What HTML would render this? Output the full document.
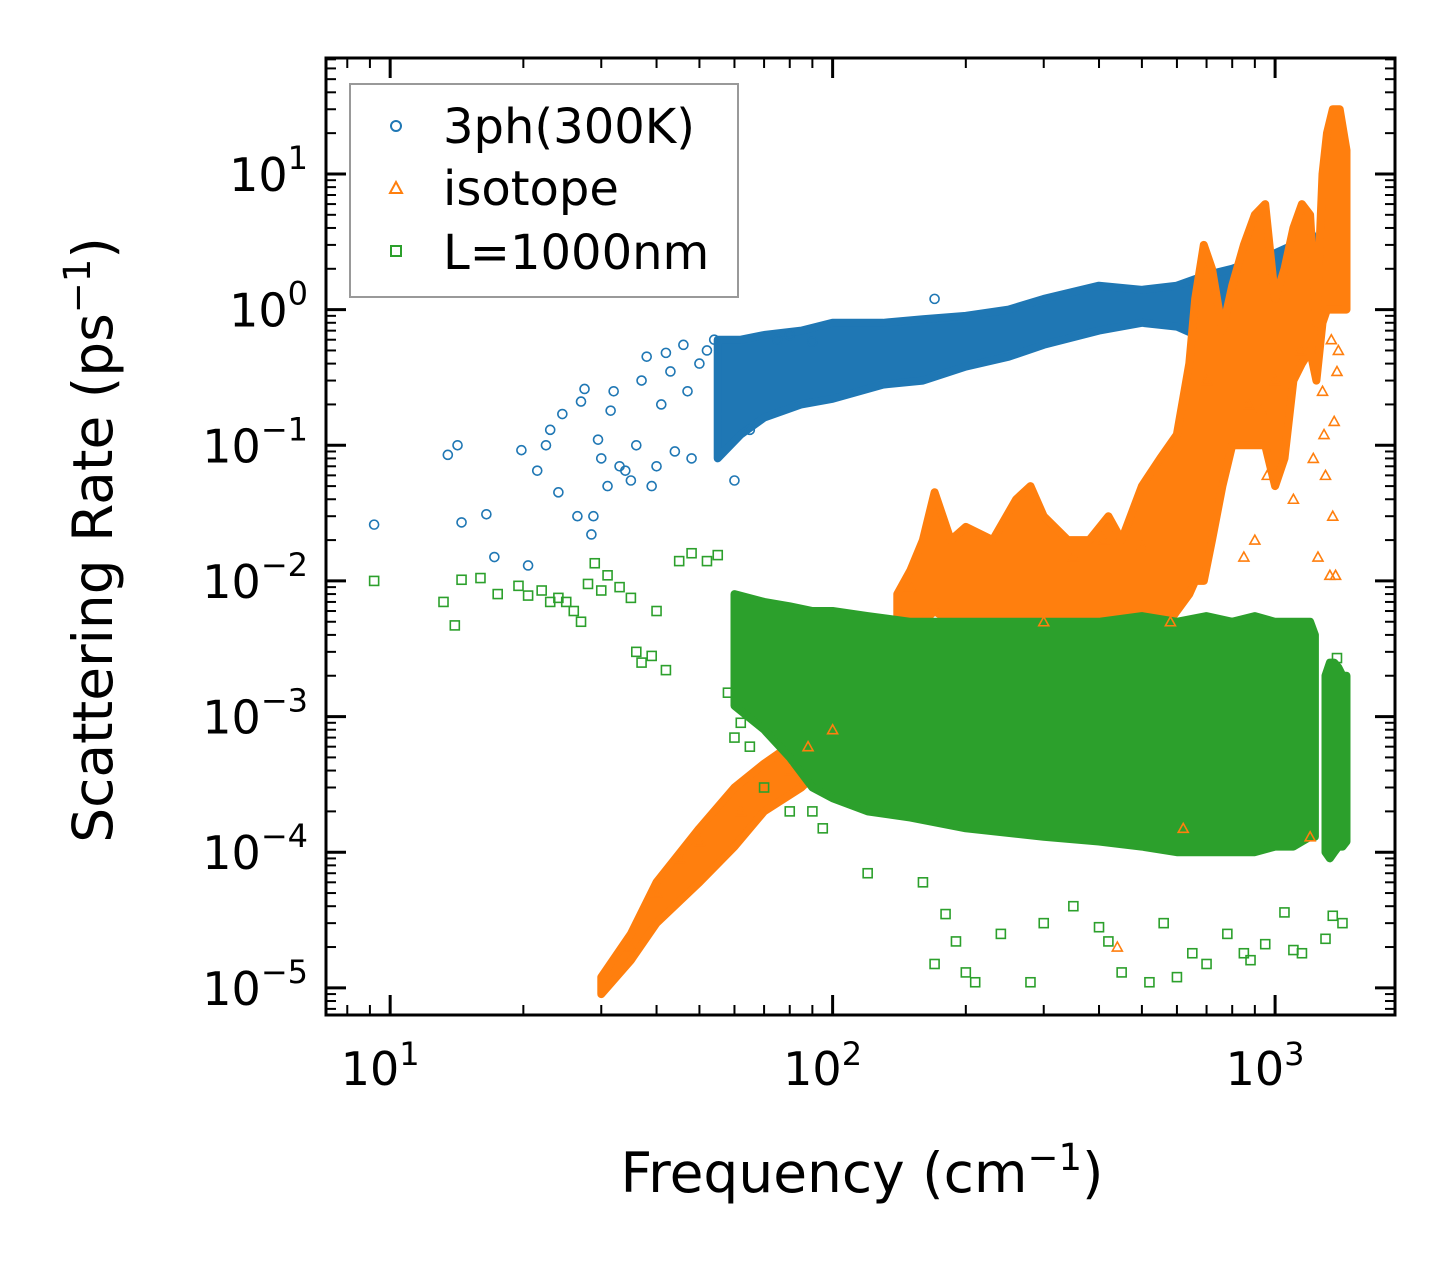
<!DOCTYPE html>
<html><head><meta charset="utf-8"><style>
body{margin:0;background:#fff}
svg text{font-family:"DejaVu Sans","Liberation Sans",sans-serif;fill:#000}
</style></head><body>
<svg id="chart" width="1455" height="1265" viewBox="0 0 1455 1265" xmlns="http://www.w3.org/2000/svg">
<rect width="1455" height="1265" fill="#fff"/>
<g id="bands"></g>
<g id="pts"></g>
<g id="axes"></g>
<text x="862" y="1192" font-size="55" text-anchor="middle">Frequency (cm<tspan dy="-22" font-size="37">−1</tspan><tspan dy="22">)</tspan></text>
<text transform="translate(112,540) rotate(-90)" font-size="55" text-anchor="middle">Scattering Rate (ps<tspan dy="-22" font-size="37">−1</tspan><tspan dy="22">)</tspan></text>
<g>
<rect x="350" y="84" width="388" height="213" fill="#fff" fill-opacity="0.8" stroke="#999" stroke-width="2"/>
<circle cx="396" cy="126" r="5" fill="none" stroke="#1f77b4" stroke-width="2"/>
<text x="443" y="143" font-size="48">3ph(300K)</text>
<path d="M396,182 L402,193 L390,193 Z" fill="none" stroke="#ff7f0e" stroke-width="2"/>
<text x="443" y="205" font-size="48">isotope</text>
<rect x="391" y="246" width="10" height="10" fill="none" stroke="#2ca02c" stroke-width="2"/>
<text x="443" y="269" font-size="48">L=1000nm</text>
</g>
</svg>
<script>
// ---- data ----
const blueBandF=[55,62,70,85,100,130,160,200,250,300,400,500,600,700,800,900,1000,1100,1200,1250,1300,1380,1450];
const blueBandLo=[0.08,0.12,0.16,0.2,0.22,0.28,0.3,0.38,0.45,0.55,0.7,0.8,0.75,0.6,0.8,0.9,1.0,1.2,1.4,1.3,1.2,1.2,1.2];
const blueBandHi=[0.6,0.6,0.65,0.7,0.8,0.8,0.85,0.9,1.0,1.2,1.5,1.4,1.5,1.8,2.0,2.3,2.6,3.0,3.8,3.0,2.2,2.0,1.9];
const orangeLowF=[30,35,40,50,60,70,85,100];
const orangeLowLo=[9e-6,1.6e-5,3e-5,6e-5,1.1e-4,2e-4,3e-4,5e-4];
const orangeLowHi=[1.2e-5,2.5e-5,6e-5,1.5e-4,3e-4,4.5e-4,7e-4,1.2e-3];
const orangeHiF=[140,150,160,170,185,200,230,260,280,300,340,380,420,450,500,550,600,640,660,690,720,760,800,850,900,950,1000,1050,1100,1150,1200,1240,1280,1310,1350,1400,1450];
const orangeHiLo=[3e-3,4e-3,5e-3,6e-3,5e-3,5e-3,5e-3,5e-3,5e-3,4e-3,4e-3,4e-3,4e-3,4e-3,4e-3,4e-3,6e-3,8e-3,0.01,0.01,0.02,0.05,0.1,0.1,0.1,0.1,0.05,0.08,0.3,0.4,0.5,0.3,0.8,1,1,1,1];
const orangeHiHi=[0.008,0.012,0.02,0.045,0.02,0.025,0.02,0.04,0.05,0.03,0.02,0.02,0.03,0.02,0.05,0.08,0.12,0.4,1.2,3,2,0.7,1.5,3,5,6,1.2,2,4,6,5,0.8,10,20,30,30,15];
const greenBandF=[60,70,80,90,100,120,150,200,300,400,500,600,700,800,900,1000,1100,1150,1200,1230];
const greenBandLo=[1.2e-3,8e-4,5e-4,3e-4,2.5e-4,2e-4,1.8e-4,1.5e-4,1.3e-4,1.2e-4,1.1e-4,1e-4,1e-4,1e-4,1e-4,1.1e-4,1.1e-4,1.2e-4,1.3e-4,1.3e-4];
const greenBandHi=[8e-3,7e-3,6.5e-3,6e-3,6e-3,5.5e-3,5e-3,5e-3,5e-3,5e-3,5.5e-3,5e-3,5.5e-3,5e-3,5.5e-3,5e-3,5e-3,5e-3,5e-3,4e-3];
const greenBand2F=[1300,1330,1360,1390,1420,1450];
const greenBand2Lo=[1e-4,9e-5,1e-4,1.1e-4,1.1e-4,1.2e-4];
const greenBand2Hi=[2e-3,2.5e-3,2.5e-3,2.3e-3,2e-3,2e-3];
const blueF=[9.2,13.5,14.2,14.5,16.5,17.2,19.8,20.5,21.5,22.5,23,24,24.5,26.5,27,27.5,28.5,28.8,29.5,30,31,31.5,32,33,34,35,36,37,38,39,40,41,42,43,44,46,47,48,50,52,54,60,65,75,80,90,170];
const blueR=[0.026,0.085,0.1,0.027,0.031,0.015,0.092,0.013,0.065,0.1,0.13,0.045,0.17,0.03,0.21,0.26,0.022,0.03,0.11,0.08,0.05,0.18,0.25,0.07,0.065,0.055,0.1,0.3,0.45,0.05,0.07,0.2,0.48,0.35,0.09,0.55,0.25,0.08,0.4,0.5,0.6,0.055,0.13,0.6,0.65,0.58,1.2];
const orangeF=[1330,1370,1350,1360,1380,1340,1390,1300,1290,1280,1250,1220,1140,1000,960,900,850,580,1100,870,930,500,410,350,700,440,620,100,88,80,62,50,35,40,45,1200,150,300];
const orangeR=[0.011,0.011,0.03,0.15,0.35,0.6,0.5,0.06,0.12,0.25,0.015,0.08,0.5,0.3,0.06,0.02,0.015,0.005,0.04,0.2,0.18,0.018,0.02,0.015,0.3,2e-5,1.5e-4,8e-4,6e-4,4e-4,2e-4,1.2e-4,2e-5,5e-5,9e-5,1.3e-4,0.009,0.005];
const greenF=[9.2,13.2,14,14.5,16,17.5,19.5,20.5,22,23,24,25,26,27,28,29,30,31,33,35,36,37,39,40,42,45,48,52,55,58,60,62,65,70,80,90,95,120,160,180,190,170,200,210,240,280,300,350,400,420,450,520,600,560,700,650,780,850,880,950,1050,1100,1150,1300,1350,1420,1380];
const greenR=[0.01,0.007,0.0047,0.0102,0.0105,0.008,0.0092,0.0078,0.0085,0.007,0.0075,0.007,0.006,0.005,0.0095,0.0135,0.0085,0.011,0.009,0.0075,0.003,0.0025,0.0028,0.006,0.0022,0.014,0.016,0.014,0.0155,0.0015,0.0007,0.0009,0.0006,0.0003,0.0002,0.0002,0.00015,0.00007,0.00006,0.000035,0.000022,0.000015,0.000013,0.000011,0.000025,0.000011,0.00003,0.00004,0.000028,0.000022,0.000013,0.000011,0.000012,0.00003,0.000015,0.000018,0.000025,0.000018,0.000016,0.000021,0.000036,0.000019,0.000018,0.000023,0.000034,0.00003,0.0027];
const xTickVals=[10,100,1000];
const xTickExp=["1","2","3"];
const yTickExp=[1,0,-1,-2,-3,-4,-5];

// ---- axes ----
const L=326,R=1395,T=58,B=1015;
const xmin=0.855,xmax=3.271,ymin=-5.2,ymax=1.855;
const X=v=>L+(Math.log10(v)-xmin)/(xmax-xmin)*(R-L);
const Y=v=>B-(Math.log10(v)-ymin)/(ymax-ymin)*(B-T);
const NS="http://www.w3.org/2000/svg";
function mk(tag,attrs,parent){const e=document.createElementNS(NS,tag);for(const k in attrs)e.setAttribute(k,attrs[k]);parent.appendChild(e);return e;}
const bands=document.getElementById('bands'),pts=document.getElementById('pts'),axes=document.getElementById('axes');

function band(F,lo,hi,color,name){
  let d='M'+F.map((f,i)=>X(f).toFixed(1)+','+Y(hi[i]).toFixed(1)).join(' L');
  for(let i=F.length-1;i>=0;i--)d+=' L'+X(F[i]).toFixed(1)+','+Y(lo[i]).toFixed(1);
  const p=mk('path',{d:d+'Z',fill:color,stroke:color,'stroke-width':8,'stroke-linejoin':'round'},bands);
  
  
}
function marker(kind,f,r,color){
  const x=X(f),y=Y(r);let e;
  if(kind==='c')e=mk('circle',{cx:x,cy:y,r:4.5,fill:'none',stroke:color,'stroke-width':1.6},pts);
  else if(kind==='t')e=mk('path',{d:`M${x},${y-5} L${x+5},${y+4} L${x-5},${y+4}Z`,fill:'none',stroke:color,'stroke-width':1.6},pts);
  else e=mk('rect',{x:x-4.5,y:y-4.5,width:9,height:9,fill:'none',stroke:color,'stroke-width':1.6},pts);
  
  
}
band(blueBandF,blueBandLo,blueBandHi,'#1f77b4','band-3ph');
blueF.forEach((f,i)=>marker('c',f,blueR[i],'#1f77b4'));
band(orangeLowF,orangeLowLo,orangeLowHi,'#ff7f0e','band-isotope-low');
band(orangeHiF,orangeHiLo,orangeHiHi,'#ff7f0e','band-isotope-high');
orangeF.forEach((f,i)=>marker('t',f,orangeR[i],'#ff7f0e'));
band(greenBandF,greenBandLo,greenBandHi,'#2ca02c','band-l1000nm');
band(greenBand2F,greenBand2Lo,greenBand2Hi,'#2ca02c','band-l1000nm-high');
greenF.forEach((f,i)=>marker('s',f,greenR[i],'#2ca02c'));

const frame=mk('rect',{x:L,y:T,width:R-L,height:B-T,fill:'none',stroke:'#000','stroke-width':3},axes);


for(let e=0;e<=3;e++)for(let m=1;m<10;m++){
  const v=m*Math.pow(10,e);const x=X(v);if(x<L||x>R)continue;
  const len=m===1?20:10,w=m===1?3:2;
  mk('line',{x1:x,x2:x,y1:B,y2:B-len,stroke:'#000','stroke-width':w},axes);
  mk('line',{x1:x,x2:x,y1:T,y2:T+len,stroke:'#000','stroke-width':w},axes);
}
xTickVals.forEach((v,i)=>{
  const t=mk('text',{x:X(v)-10,y:1085,'font-size':46,'text-anchor':'middle'},axes);
  t.innerHTML='10<tspan dy="-20" font-size="32">'+xTickExp[i]+'</tspan>';
  
  
});
for(let e=-6;e<=2;e++)for(let m=1;m<10;m++){
  const v=m*Math.pow(10,e);const y=Y(v);if(y<T||y>B)continue;
  const len=m===1?20:10,w=m===1?3:2;
  mk('line',{x1:L,x2:L+len,y1:y,y2:y,stroke:'#000','stroke-width':w},axes);
  mk('line',{x1:R,x2:R-len,y1:y,y2:y,stroke:'#000','stroke-width':w},axes);
}
yTickExp.forEach(e=>{
  const t=mk('text',{x:308,y:Y(Math.pow(10,e))+17,'font-size':46,'text-anchor':'end'},axes);
  const s=e<0?'−'+(-e):String(e);
  t.innerHTML='10<tspan dy="-22" font-size="32">'+s+'</tspan>';
  
  
});
</script>
</body></html>
